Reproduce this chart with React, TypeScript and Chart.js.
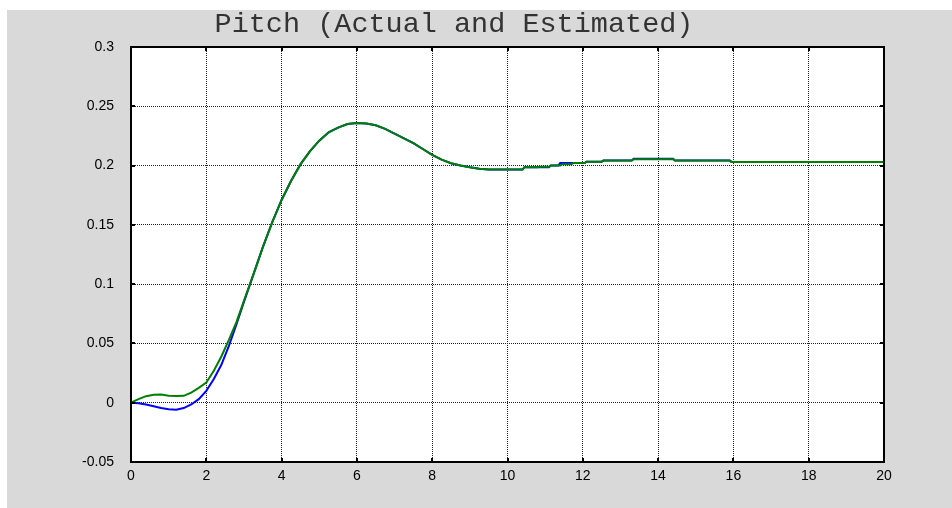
import { useEffect, useRef } from "react";
import { Chart, registerables } from "chart.js";

Chart.register(...registerables);

const titleText = "Pitch (Actual and Estimated)";

const xTickValues = [0, 2, 4, 6, 8, 10, 12, 14, 16, 18, 20];
const xTickLabels = ["0", "2", "4", "6", "8", "10", "12", "14", "16", "18", "20"];
const yTickValues = [-0.05, 0, 0.05, 0.1, 0.15, 0.2, 0.25, 0.3];
const yTickLabels = ["-0.05", "0", "0.05", "0.1", "0.15", "0.2", "0.25", "0.3"];

const actualTime = [
  0, 0.2, 0.4, 0.6, 0.8, 1.0, 1.2, 1.4, 1.6, 1.8, 2.0, 2.2, 2.4, 2.6, 2.8, 3.0,
  3.25, 3.5, 3.75, 4.0, 4.25, 4.5, 4.75, 5.0, 5.25, 5.5, 5.75, 6.0, 6.25, 6.5,
  6.75, 7.0, 7.25, 7.5, 7.75, 8.0, 8.25, 8.5, 8.75, 9.0, 9.25, 9.5, 9.75, 10.4,
  10.45, 11.1, 11.15, 11.35, 11.4, 12.05, 12.1, 12.5, 12.55, 13.3, 13.35, 14.4,
  14.45, 15.9, 15.95, 20,
];
const actualPitch = [
  0, -0.0005, -0.0015, -0.003, -0.0045, -0.0055, -0.006, -0.0045, -0.0015, 0.003,
  0.01, 0.02, 0.032, 0.048, 0.066, 0.085,
  0.108, 0.131, 0.152, 0.171, 0.187, 0.201, 0.212, 0.221, 0.228, 0.232, 0.235,
  0.2358, 0.2355, 0.234, 0.231, 0.227, 0.223, 0.219, 0.214, 0.209, 0.205, 0.202,
  0.2, 0.1985, 0.1973, 0.1967, 0.1966, 0.1966,
  0.1986, 0.1986, 0.2, 0.2, 0.2022, 0.2022, 0.2033, 0.2033, 0.2042, 0.2042,
  0.2058, 0.2058, 0.2042, 0.2042, 0.2031, 0.2031,
];

const estimatedTime = [
  0, 0.2, 0.4, 0.6, 0.8, 1.0, 1.2, 1.4, 1.6, 1.8, 2.0, 2.2, 2.4, 2.6, 2.8, 3.0,
  3.25, 3.5, 3.75, 4.0, 4.25, 4.5, 4.75, 5.0, 5.25, 5.5, 5.75, 6.0, 6.25, 6.5,
  6.75, 7.0, 7.25, 7.5, 7.75, 8.0, 8.25, 8.5, 8.75, 9.0, 9.25, 9.5, 9.75, 10.4,
  10.45, 10.8, 10.85, 11.1, 11.15, 11.4, 11.45, 11.7, 11.75, 12.05, 12.1, 12.5,
  12.55, 13.3, 13.35, 14.4, 14.45, 15.9, 15.95, 20,
];
const estimatedPitch = [
  0, 0.003, 0.0055, 0.0068, 0.007, 0.0058, 0.0056, 0.0058, 0.0085, 0.0125,
  0.017, 0.027, 0.039, 0.053, 0.068, 0.086,
  0.108, 0.131, 0.152, 0.171, 0.187, 0.201, 0.212, 0.221, 0.228, 0.232, 0.235,
  0.2358, 0.2355, 0.234, 0.231, 0.227, 0.223, 0.219, 0.214, 0.209, 0.205, 0.202,
  0.2, 0.1985, 0.1973, 0.1967, 0.1966, 0.1966,
  0.1986, 0.1986, 0.199, 0.199, 0.2, 0.2, 0.2011, 0.2011, 0.2022, 0.2022, 0.2033,
  0.2033, 0.2042, 0.2042, 0.2053, 0.2053, 0.2042, 0.2042, 0.2031, 0.2031,
];

const plotBackgroundPlugin = {
  id: "plotBackground",
  beforeDraw(chart: any) {
    const { ctx, chartArea: a } = chart;
    ctx.save();
    ctx.fillStyle = "#ffffff";
    ctx.fillRect(a.left, a.top, a.right - a.left, a.bottom - a.top);
    ctx.restore();
  },
};

const framePlugin = {
  id: "matlabFrame",
  afterDatasetsDraw(chart: any) {
    const { ctx, chartArea: a, scales } = chart;
    const tl = 4;
    ctx.save();
    ctx.strokeStyle = "#000";
    ctx.lineWidth = 2;
    ctx.beginPath();
    for (const t of scales.x.ticks) {
      const px = Math.round(scales.x.getPixelForValue(t.value));
      ctx.moveTo(px, a.bottom);
      ctx.lineTo(px, a.bottom - tl);
      ctx.moveTo(px, a.top);
      ctx.lineTo(px, a.top + tl);
    }
    for (const t of scales.y.ticks) {
      const py = Math.round(scales.y.getPixelForValue(t.value));
      ctx.moveTo(a.left, py);
      ctx.lineTo(a.left + tl, py);
      ctx.moveTo(a.right, py);
      ctx.lineTo(a.right - tl, py);
    }
    ctx.stroke();
    ctx.strokeRect(a.left, a.top, a.right - a.left, a.bottom - a.top);
    ctx.restore();
  },
};

export default function App() {
  const canvasRef = useRef<HTMLCanvasElement | null>(null);

  useEffect(() => {
    if (!canvasRef.current) return;
    const chart = new Chart(canvasRef.current, {
      type: "line",
      data: {
        datasets: [
          {
            label: "Actual",
            data: actualTime.map((t, i) => ({ x: t, y: actualPitch[i] })),
            borderColor: "#0000ff",
            borderWidth: 2,
            pointRadius: 0,
            fill: false,
            tension: 0,
            order: 1,
          },
          {
            label: "Estimated",
            data: estimatedTime.map((t, i) => ({ x: t, y: estimatedPitch[i] })),
            borderColor: "#008000",
            borderWidth: 2,
            pointRadius: 0,
            fill: false,
            tension: 0,
            order: 0,
          },
        ],
      },
      options: {
        animation: false,
        responsive: false,
        layout: { padding: { left: 17, right: 68, top: 0, bottom: 0 } },
        plugins: {
          legend: { display: false },
          tooltip: { enabled: false },
          title: {
            display: true,
            text: titleText,
            color: "#333",
            font: { family: "'Liberation Mono', 'Courier New', monospace", size: 28.5, weight: "normal", lineHeight: 1 },
            padding: { top: 0, bottom: 8.5 },
          },
        },
        scales: {
          x: {
            type: "linear",
            min: 0,
            max: 20,
            afterBuildTicks: (scale: any) => {
              scale.ticks = xTickValues.map((v) => ({ value: v }));
            },
            afterFit: (scale: any) => {
              scale.height = 46;
            },
            ticks: {
              color: "#000",
              padding: 6,
              maxRotation: 0,
              autoSkip: false,
              font: { family: "'Liberation Sans', Arial, sans-serif", size: 14 },
              callback: (_v: any, i: number) => xTickLabels[i],
            },
            grid: { color: "#222", lineWidth: 1, drawTicks: false },
            border: { display: false, dash: [1, 1] },
          },
          y: {
            type: "linear",
            min: -0.05,
            max: 0.3,
            afterBuildTicks: (scale: any) => {
              scale.ticks = yTickValues.map((v) => ({ value: v }));
            },
            afterFit: (scale: any) => {
              scale.width = 107;
            },
            ticks: {
              color: "#000",
              padding: 17,
              autoSkip: false,
              font: { family: "'Liberation Sans', Arial, sans-serif", size: 14 },
              callback: (_v: any, i: number) => yTickLabels[i],
            },
            grid: { color: "#222", lineWidth: 1, drawTicks: false },
            border: { display: false, dash: [1, 1] },
          },
        },
      },
      plugins: [plotBackgroundPlugin, framePlugin],
    });
    return () => chart.destroy();
  }, []);

  return (
    <div
      style={{
        position: "absolute",
        left: 7,
        top: 10,
        width: 945,
        height: 498,
        background: "#d9d9d9",
      }}
    >
      <canvas ref={canvasRef} width={945} height={498} style={{ display: "block" }} />
    </div>
  );
}
